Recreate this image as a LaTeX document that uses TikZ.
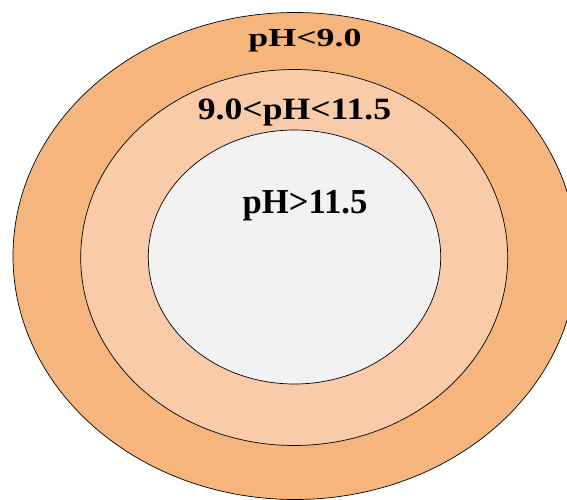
\documentclass[tikz,border=0pt]{standalone}
\usepackage{fontspec}
\usepackage{graphicx}
\setmainfont{Liberation Serif}
\definecolor{outerc}{HTML}{F7B57E}
\definecolor{midc}{HTML}{F9CBA8}
\definecolor{innerc}{HTML}{F2F2F2}
\tikzset{
  ring/.style={draw=black, line width=0.7pt},
  lbl/.style={anchor=base, inner sep=0pt, text=black},
}
\newcommand{\lblfont}[1]{\fontsize{#1}{#1}\selectfont\bfseries}
\begin{document}
\begin{tikzpicture}[x=1pt, y=-1pt]
  \useasboundingbox (0,0) rectangle (567,500);
  \clip (0,0) rectangle (567,500);
  \fill[white] (0,0) rectangle (567,500);
  \draw[ring, fill=outerc] (295,256) ellipse [x radius=282, y radius=243.5];
  \draw[ring, fill=midc] (294.2,257.5) ellipse [x radius=213.5, y radius=188];
  \draw[ring, fill=innerc] (294.5,257) ellipse [x radius=146.2, y radius=127];
  \node[lbl] (outerlbl) at (305,47) {\scalebox{1.38}[1]{\lblfont{26pt}pH<9.0}};
  \node[lbl] (midlbl) at (294.5,119.3) {\scalebox{1.15}[1]{\lblfont{31pt}9.0<pH<11.5}};
  \node[lbl] (innerlbl) at (305,213.3) {\scalebox{0.99}[1]{\lblfont{35pt}pH>11.5}};
\end{tikzpicture}
\end{document}
